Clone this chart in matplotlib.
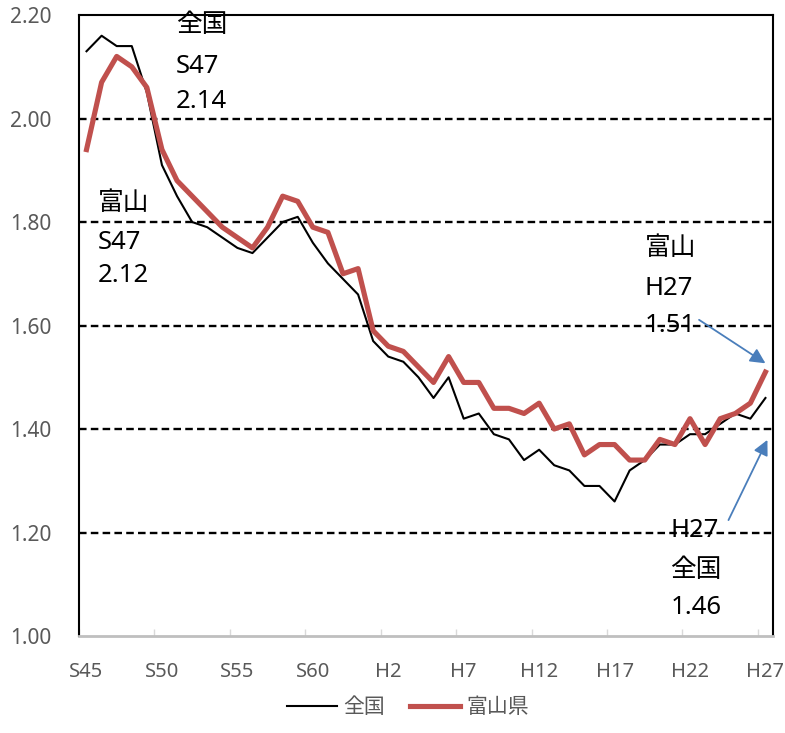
import matplotlib
matplotlib.use('Agg')
import matplotlib.pyplot as plt
import numpy as np

plt.rcParams['font.family'] = ['Noto Sans', 'Noto Sans CJK JP', 'DejaVu Sans']

# 合計特殊出生率 S45(1970) - H27(2015)
zenkoku = [2.13, 2.16, 2.14, 2.14, 2.05, 1.91, 1.85, 1.80, 1.79, 1.77,
           1.75, 1.74, 1.77, 1.80, 1.81, 1.76, 1.72, 1.69, 1.66, 1.57,
           1.54, 1.53, 1.50, 1.46, 1.50, 1.42, 1.43, 1.39, 1.38, 1.34,
           1.36, 1.33, 1.32, 1.29, 1.29, 1.26, 1.32, 1.34, 1.37, 1.37,
           1.39, 1.39, 1.41, 1.43, 1.42, 1.46]
toyama = [1.94, 2.07, 2.12, 2.10, 2.06, 1.94, 1.88, 1.85, 1.82, 1.79,
          1.77, 1.75, 1.79, 1.85, 1.84, 1.79, 1.78, 1.70, 1.71, 1.59,
          1.56, 1.55, 1.52, 1.49, 1.54, 1.49, 1.49, 1.44, 1.44, 1.43,
          1.45, 1.40, 1.41, 1.35, 1.37, 1.37, 1.34, 1.34, 1.38, 1.37,
          1.42, 1.37, 1.42, 1.43, 1.45, 1.51]
xlabels = ['S45', 'S50', 'S55', 'S60', 'H2', 'H7', 'H12', 'H17', 'H22', 'H27']
yticks = [1.00, 1.20, 1.40, 1.60, 1.80, 2.00, 2.20]

n = len(zenkoku)
x = np.arange(n) + 0.5

fig = plt.figure(figsize=(7.85, 7.33), dpi=100)
ax = fig.add_axes([0.1006, 0.1323, 0.8841, 0.8472])

for yv in yticks[1:-1]:
    ax.axhline(yv, color='black', lw=1.7, dashes=(3.2, 1.8), zorder=1)

ax.plot(x, zenkoku, color='black', lw=1.5, label='全国', zorder=3)
ax.plot(x, toyama, color='#c0504d', lw=3.7, label='富山県', zorder=4)

ax.set_xlim(0, n)
ax.set_ylim(1.0, 2.2)
ax.set_yticks(yticks)
ax.set_yticklabels(['%.2f' % v for v in yticks])
ax.tick_params(axis='y', length=0, pad=20, labelsize=15, labelcolor='#595959')

ax.set_xticks(np.arange(0, n, 5))
ax.set_xticklabels([])
ax.set_xticks(np.arange(0, n, 5) + 0.5, minor=True)
ax.set_xticklabels(xlabels, minor=True)
ax.tick_params(axis='x', which='major', direction='in', length=5, width=1, color='#d9d9d9')
ax.tick_params(axis='x', which='minor', length=0, pad=19, labelsize=14.5, labelcolor='#595959')

for s in ['left', 'right', 'top']:
    ax.spines[s].set_color('black')
    ax.spines[s].set_linewidth(1.5)
ax.spines['bottom'].set_color('#bfbfbf')
ax.spines['bottom'].set_linewidth(2)

def block(x0, lines, ys):
    for t, yy in zip(lines, ys):
        ax.text(x0, yy, t, fontsize=18.5, color='black', ha='left', va='center', zorder=5)

block(6.42, ['全国', 'S47', '2.14'], [2.179, 2.101, 2.032])
block(1.26, ['富山', 'S47', '2.12'], [1.835, 1.761, 1.696])
block(37.48, ['富山', 'H27', '1.51'], [1.748, 1.671, 1.601])
block(39.2, ['H27', '全国', '1.46'], [1.203, 1.126, 1.056])

arrow = dict(arrowstyle='-|>,head_length=0.9,head_width=0.45', color='#4a7ebb', lw=1.3,
             shrinkA=0, shrinkB=0)
ax.annotate('', xy=(45.5, 1.527), xytext=(41.1, 1.611), arrowprops=arrow, annotation_clip=False)
ax.annotate('', xy=(45.63, 1.379), xytext=(43.05, 1.224), arrowprops=arrow, annotation_clip=False)

leg = fig.legend(loc='lower center', bbox_to_anchor=(0.52, -0.005), ncol=2, frameon=False,
                 fontsize=15, handlelength=2.4, columnspacing=1.2, handletextpad=0.3)
for t in leg.get_texts():
    t.set_color('#595959')

fig.savefig('out.png', dpi=100)
